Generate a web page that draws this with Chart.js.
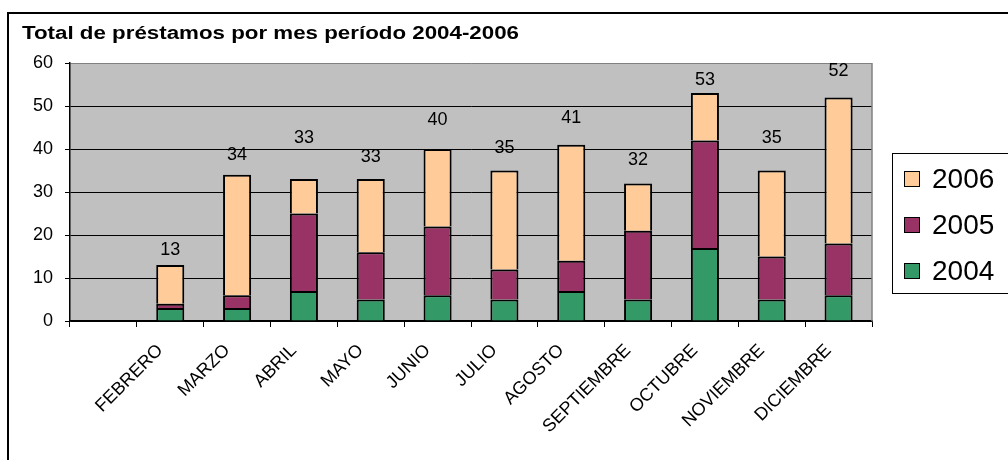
<!DOCTYPE html>
<html>
<head>
<meta charset="utf-8">
<script src="https://cdn.jsdelivr.net/npm/chart.js@4"></script>
<style>
  body { margin: 0; background: #fff; }
  #wrap { width: 1008px; height: 460px; }
</style>
</head>
<body>
<div id="wrap"><canvas id="chart" width="1008" height="460"></canvas></div>
<script>
// first slot is empty in the original sheet
const months = ['', 'FEBRERO', 'MARZO', 'ABRIL', 'MAYO', 'JUNIO', 'JULIO', 'AGOSTO',
  'SEPTIEMBRE', 'OCTUBRE', 'NOVIEMBRE', 'DICIEMBRE'];
const y2004 = [null, 3, 3, 7, 5, 6, 5, 7, 5, 17, 5, 6];
const y2005 = [null, 1, 3, 18, 11, 16, 7, 7, 16, 25, 10, 12];
const y2006 = [null, 9, 28, 8, 17, 18, 23, 27, 11, 11, 20, 34];
const yTicks = [0, 10, 20, 30, 40, 50, 60];

const title = 'Total de préstamos por mes período 2004-2006';
const FONT = '"Liberation Sans", Arial, sans-serif';

// how far (px) each total label sits above its stack, as placed in the original
const labelLift = [0, 15, 20, 41, 22, 29, 22, 27, 23, 13, 32, 26];

const decor = {
  id: 'decor',
  beforeDraw(chart) {
    const { ctx, chartArea: a } = chart;
    ctx.save();
    ctx.fillStyle = '#fff';
    ctx.fillRect(0, 0, chart.width, chart.height);
    ctx.strokeStyle = '#000';
    ctx.lineWidth = 2;
    ctx.strokeRect(8, 13, chart.width + 20, chart.height + 20);
    ctx.fillStyle = '#c0c0c0';
    ctx.fillRect(a.left, a.top, a.right - a.left, a.bottom - a.top);
    // excel draws the title a bit wider than the font
    ctx.fillStyle = '#000';
    ctx.font = 'bold 18px ' + FONT;
    ctx.textBaseline = 'alphabetic';
    ctx.translate(22, 39);
    ctx.scale(1.24, 1);
    ctx.fillText(title, 0, 0);
    ctx.restore();
  },
  afterDatasetsDraw(chart) {
    const { ctx, chartArea: a } = chart;
    const xs = chart.scales.x, ys = chart.scales.y;
    ctx.save();
    ctx.strokeStyle = '#808080';
    ctx.lineWidth = 1.5;
    ctx.beginPath();
    ctx.moveTo(a.right, a.top);
    ctx.lineTo(a.right, a.bottom);
    ctx.stroke();

    ctx.fillStyle = '#000';
    ctx.font = '18px ' + FONT;
    ctx.textAlign = 'center';
    ctx.textBaseline = 'middle';
    months.forEach((m, i) => {
      if (y2004[i] == null) return;
      const total = y2004[i] + y2005[i] + y2006[i];
      ctx.fillText(String(total), xs.getPixelForValue(i), ys.getPixelForValue(total) - labelLift[i]);
    });

    // legend, Excel style
    ctx.strokeStyle = '#000';
    ctx.lineWidth = 1;
    ctx.strokeRect(892.5, 153.5, 140, 140);
    const items = [['2006', '#ffcc99'], ['2005', '#993366'], ['2004', '#339966']];
    ctx.font = '28px ' + FONT;
    ctx.textAlign = 'left';
    items.forEach(([lab, col], k) => {
      const cy = 179 + k * 46;
      ctx.fillStyle = col;
      ctx.fillRect(904, cy - 8, 16, 16);
      ctx.strokeRect(904.5, cy - 7.5, 15, 15);
      ctx.fillStyle = '#000';
      ctx.fillText(lab, 932, cy + 1);
    });
    ctx.restore();
  }
};

new Chart(document.getElementById('chart'), {
  type: 'bar',
  data: {
    labels: months,
    datasets: [
      { label: '2004', data: y2004, backgroundColor: '#339966' },
      { label: '2005', data: y2005, backgroundColor: '#993366' },
      { label: '2006', data: y2006, backgroundColor: '#ffcc99' }
    ]
  },
  options: {
    responsive: false,
    animation: false,
    datasets: {
      bar: {
        borderColor: '#000',
        borderWidth: 2,
        borderSkipped: 'start',
        barPercentage: 0.42,
        categoryPercentage: 1
      }
    },
    layout: { padding: { top: 63, right: 136, left: 0, bottom: 0 } },
    plugins: { legend: { display: false }, tooltip: { enabled: false } },
    scales: {
      x: {
        stacked: true,
        grid: { offset: true, drawOnChartArea: false, color: '#000', tickLength: 6 },
        border: { color: '#000', width: 1.5 },
        ticks: {
          color: '#000', font: { family: FONT, size: 18 },
          minRotation: 45, maxRotation: 45, padding: 13, labelOffset: -10, autoSkip: false
        },
        afterFit(s) { s.height = 139; }
      },
      y: {
        stacked: true,
        min: 0,
        max: 60,
        afterBuildTicks(s) { s.ticks = yTicks.map(v => ({ value: v })); },
        grid: {
          color: c => (c.tick && c.tick.value === 60 ? '#808080' : '#000'),
          tickColor: '#000',
          tickLength: 5
        },
        border: { color: '#000', width: 1.5 },
        ticks: { color: '#000', font: { family: FONT, size: 18 }, padding: 12 },
        afterFit(s) { s.width = 70; }
      }
    }
  },
  plugins: [decor]
});
</script>
</body>
</html>
